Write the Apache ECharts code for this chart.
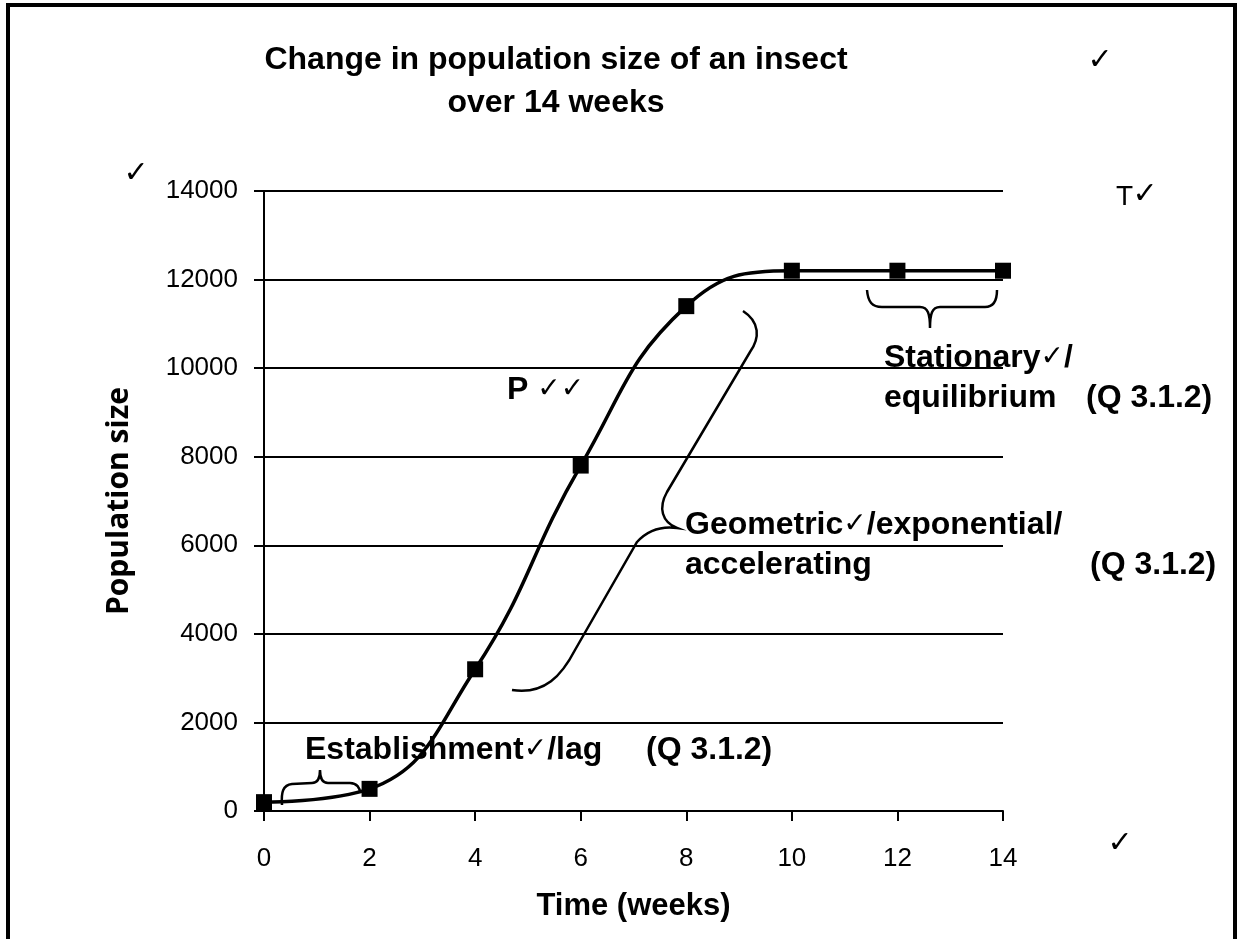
<!DOCTYPE html>
<html>
<head>
<meta charset="utf-8">
<script src="https://cdn.jsdelivr.net/npm/echarts@6/dist/echarts.min.js"></script>
<style>html,body{margin:0;padding:0;background:#fff;}#chart{width:1243px;height:939px;}</style>
</head>
<body>
<div id="chart"></div>
<script>
// ---- data ----
const weeks = [0, 2, 4, 6, 8, 10, 12, 14];
const population = [200, 500, 3200, 7800, 11400, 12200, 12200, 12200];
const yTicks = [0, 2000, 4000, 6000, 8000, 10000, 12000, 14000];
const xTicks = [0, 2, 4, 6, 8, 10, 12, 14];
const titleText = 'Change in population size of an insect\nover 14 weeks';
const xName = 'Time (weeks)';
const yName = 'Population size';

const SANS = "'Liberation Sans',Arial,sans-serif";
const CHECK = "'DejaVu Sans',sans-serif";

// brace shapes (annotation outlines, in pixels)
const braceLag = 'M282,805 C281,792 283,785 292,784 L312,783 C318,783 320,778 320,770 C320,778 322,783 328,783 L350,783 C357,783 360,788 360,793';
const braceStat = 'M867,290 C868,302 872,307 882,307 L920,307 C928,307 930,314 930,328 C930,314 932,307 940,307 L985,307 C993,307 997,302 997,290';
const braceGeo = 'M743,311 C760,322 760,338 750,352 L667,492 C658,508 662,522 677,528 C662,526 648,530 637,542 L575,650 C562,675 545,695 512,690';
echarts.graphic.registerShape('braceLag', echarts.graphic.extendPath(braceLag, {}));
echarts.graphic.registerShape('braceStat', echarts.graphic.extendPath(braceStat, {}));
echarts.graphic.registerShape('braceGeo', echarts.graphic.extendPath(braceGeo, {}));

const chart = echarts.init(document.getElementById('chart'));

function rt(parts) {
  return parts.map(p => '{' + p[1] + '|' + p[0] + '}').join('');
}
const richStyles = {
  b: { fontFamily: SANS, fontWeight: 'bold', fontSize: 32, fill: '#000' },
  c: { fontFamily: CHECK, fontWeight: 'normal', fontSize: 28, fill: '#000' }
};
function annot(x, y, parts) {
  return {
    type: 'text', x: x, y: y, z: 20,
    style: { text: rt(parts), rich: richStyles, verticalAlign: 'middle', align: 'left' }
  };
}
function plainCheck(x, y, size) {
  return { type: 'text', x: x, y: y, z: 20,
    style: { text: '\u2713', font: 'bold ' + size + 'px ' + CHECK, fill: '#000', align: 'center', verticalAlign: 'middle' } };
}
const braceStyle = { stroke: '#000', lineWidth: 2.5, fill: null };

const option = {
  backgroundColor: '#fff',
  animation: false,
  title: {
    text: titleText,
    left: 551, top: 34,
    textAlign: 'center',
    textStyle: { fontFamily: SANS, fontWeight: 'bold', fontSize: 32, lineHeight: 43, color: '#000' }
  },
  grid: { left: 264, right: 240, top: 191, bottom: 128, containLabel: false },
  xAxis: {
    type: 'value', min: 0, max: 14, interval: 2,
    name: xName, nameLocation: 'middle', nameGap: 80,
    nameTextStyle: { fontFamily: SANS, fontWeight: 'bold', fontSize: 31, color: '#000' },
    axisLine: { show: true, onZero: false, lineStyle: { color: '#000', width: 2 } },
    axisTick: { show: true, length: 10, lineStyle: { color: '#000', width: 2 } },
    axisLabel: { margin: 35, fontFamily: SANS, fontSize: 26, color: '#000',
      formatter: v => xTicks.includes(v) ? String(v) : '' },
    splitLine: { show: false }
  },
  yAxis: {
    type: 'value', min: 0, max: 14000, interval: 2000,
    name: yName, nameLocation: 'middle', nameGap: 130, nameRotate: 90,
    nameTextStyle: { fontFamily: "'Open Sans',sans-serif", fontWeight: 'bold', fontSize: 30, color: '#000' },
    axisLine: { show: true, lineStyle: { color: '#000', width: 2 } },
    axisTick: { show: true, length: 10, lineStyle: { color: '#000', width: 2 } },
    axisLabel: { margin: 26, fontFamily: SANS, fontSize: 26, color: '#000',
      formatter: v => yTicks.includes(v) ? String(v) : '' },
    splitLine: { show: true, lineStyle: { color: '#000', width: 2 } }
  },
  series: [{
    type: 'line',
    data: weeks.map((w, i) => [w, population[i]]),
    smooth: 0.45,
    symbol: 'rect', symbolSize: 16,
    itemStyle: { color: '#000' },
    lineStyle: { color: '#000', width: 3.5 },
    z: 5
  }],
  graphic: [
    { type: 'rect', shape: { x: 8, y: 5, width: 1227, height: 960 }, style: { fill: null, stroke: '#000', lineWidth: 4 }, z: 30 },
    plainCheck(136, 174, 30),
    plainCheck(1100, 61, 30),
    plainCheck(1120, 844, 30),
    { type: 'text', x: 1116, y: 197, z: 20, style: { text: 'T', font: '28px ' + SANS, fill: '#000', align: 'left', verticalAlign: 'middle' } },
    plainCheck(1145, 195, 30),
    annot(507, 390, [['P ', 'b'], ['\u2713\u2713', 'c']]),
    annot(305, 750, [['Establishment', 'b'], ['\u2713', 'c'], ['/lag', 'b']]),
    annot(646, 750, [['(Q 3.1.2)', 'b']]),
    annot(884, 358, [['Stationary', 'b'], ['\u2713', 'c'], ['/', 'b']]),
    annot(884, 398, [['equilibrium', 'b']]),
    annot(1086, 398, [['(Q 3.1.2)', 'b']]),
    annot(685, 525, [['Geometric', 'b'], ['\u2713', 'c'], ['/exponential/', 'b']]),
    annot(685, 565, [['accelerating', 'b']]),
    annot(1090, 565, [['(Q 3.1.2)', 'b']]),
    { type: 'braceLag', z: 15, style: braceStyle },
    { type: 'braceStat', z: 15, style: braceStyle },
    { type: 'braceGeo', z: 15, style: braceStyle }
  ]
};
chart.setOption(option);
</script>
</body>
</html>
